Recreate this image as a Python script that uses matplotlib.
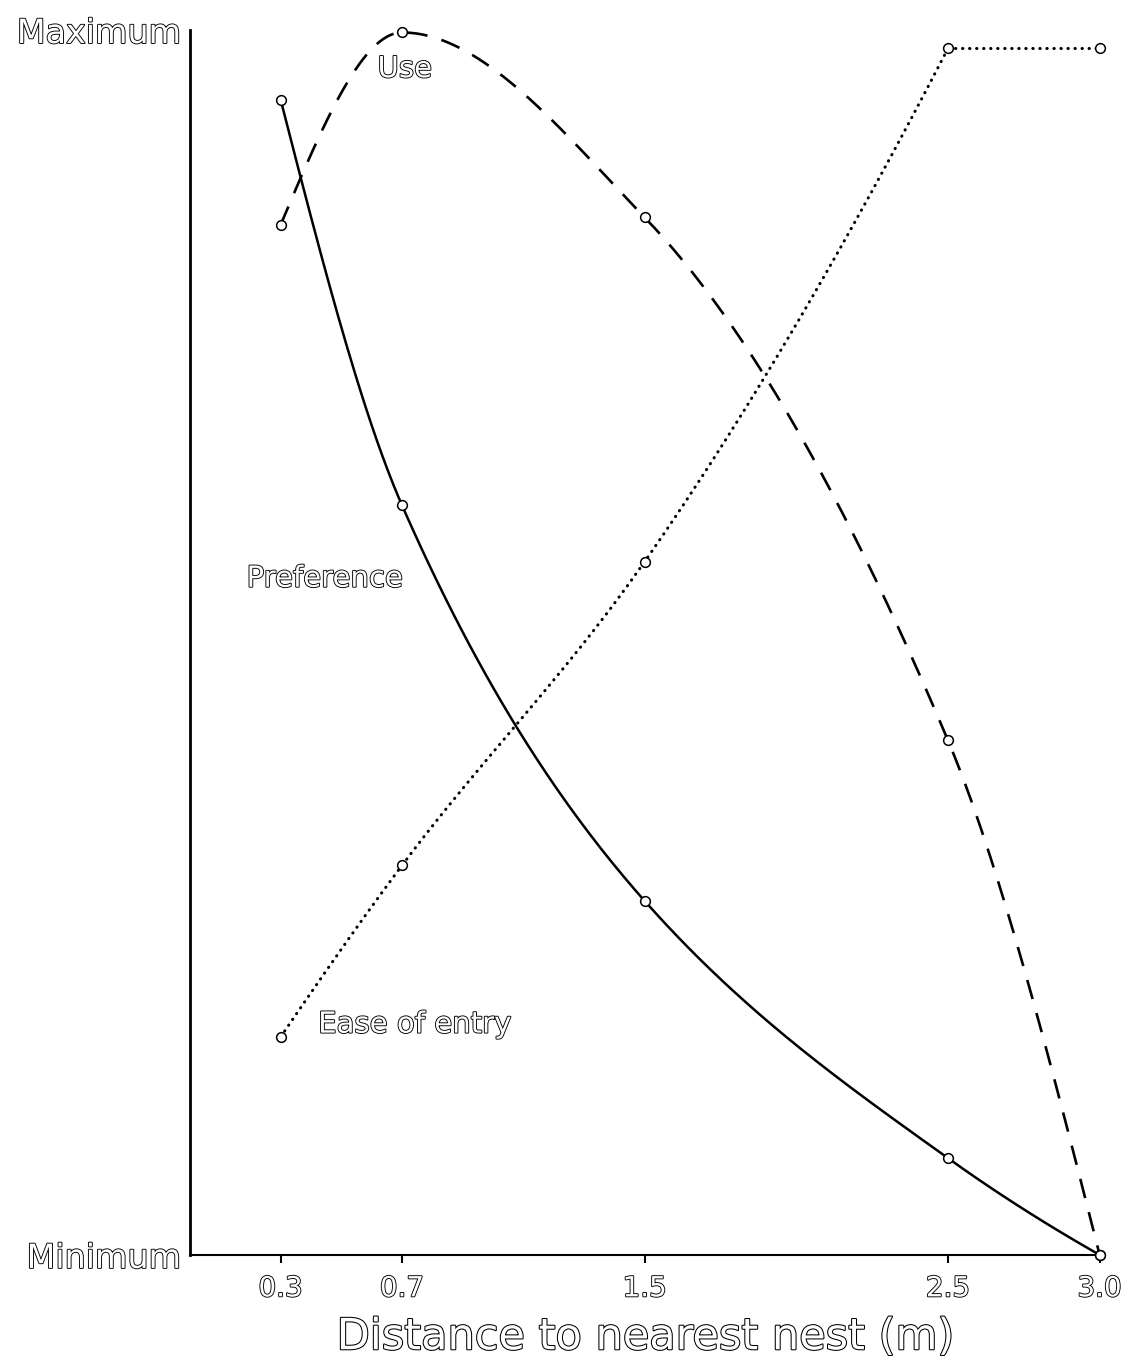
import numpy as np
import matplotlib
matplotlib.use("Agg")
from matplotlib import pyplot as plt
import matplotlib.patheffects as pe

# distances (m) and relative levels (0 = minimum, 1 = maximum)
distance = [0.3, 0.7, 1.5, 2.5, 3.0]
preference = [0.943, 0.612, 0.289, 0.079, 0.0]
use = [0.841, 0.998, 0.847, 0.420, 0.0]
ease_of_entry = [0.178, 0.318, 0.566, 0.985, 0.985]
tick_labels = ["0.3", "0.7", "1.5", "2.5", "3.0"]


def smooth(x, y, n=300):
    # pchip style curve, only used to draw the smooth line between points
    x = np.asarray(x, float)
    y = np.asarray(y, float)
    h = np.diff(x)
    d = np.diff(y) / h
    m = np.zeros(len(x))
    for i in range(1, len(x) - 1):
        if d[i - 1] * d[i] > 0:
            w1 = 2 * h[i] + h[i - 1]
            w2 = h[i] + 2 * h[i - 1]
            m[i] = (w1 + w2) / (w1 / d[i - 1] + w2 / d[i])
    # end slopes
    m[0] = ((2 * h[0] + h[1]) * d[0] - h[0] * d[1]) / (h[0] + h[1])
    if np.sign(m[0]) != np.sign(d[0]):
        m[0] = 0
    m[-1] = ((2 * h[-1] + h[-2]) * d[-1] - h[-1] * d[-2]) / (h[-1] + h[-2])
    if np.sign(m[-1]) != np.sign(d[-1]):
        m[-1] = 0
    xs = np.linspace(x[0], x[-1], n)
    idx = np.clip(np.searchsorted(x, xs) - 1, 0, len(x) - 2)
    hh = h[idx]
    t = (xs - x[idx]) / hh
    h00 = 2 * t**3 - 3 * t**2 + 1
    h10 = t**3 - 2 * t**2 + t
    h01 = -2 * t**3 + 3 * t**2
    h11 = t**3 - t**2
    ys = h00 * y[idx] + h10 * hh * m[idx] + h01 * y[idx + 1] + h11 * hh * m[idx + 1]
    return xs, ys


outline = [pe.withStroke(linewidth=1.3, foreground="black")]
font = "DejaVu Sans"

fig = plt.figure(figsize=(11.29, 13.58), dpi=100)
ax = fig.add_axes([0.168, 0.0759, 0.806, 0.902])

xs, ys = smooth(distance, preference)
ax.plot(xs, ys, color="black", lw=1.8, solid_capstyle="round", clip_on=False)

xs, ys = smooth(distance, use)
ax.plot(xs, ys, color="black", lw=1.9, linestyle=(0, (7.5, 5.5)), clip_on=False)

xs, ys = smooth(distance[:4], ease_of_entry[:4])
ax.plot(xs, ys, color="black", lw=2.2, linestyle=(0, (0.1, 2.2)),
        dash_capstyle="round", clip_on=False)
ax.plot(distance[3:], ease_of_entry[3:], color="black", lw=2.2,
        linestyle=(0, (0.1, 2.2)), dash_capstyle="round", clip_on=False)

for series in (preference, use, ease_of_entry):
    ax.plot(distance, series, "o", ms=7, mfc="white", mec="black", mew=1.1,
            clip_on=False, zorder=5)

ax.set_xlim(0, 3.0)
ax.set_ylim(0, 1)
ax.spines["top"].set_visible(False)
ax.spines["right"].set_visible(False)
ax.spines["left"].set_linewidth(2)
ax.spines["bottom"].set_linewidth(1.5)

ax.set_xticks(distance)
ax.set_xticklabels(tick_labels)
ax.tick_params(axis="x", direction="out", length=6, width=1.5, pad=8)
for lab in ax.get_xticklabels():
    lab.set_fontsize(20)
    lab.set_family(font)
    lab.set_color("white")
    lab.set_path_effects(outline)

ax.set_yticks([0, 1])
ax.set_yticklabels(["Minimum", "Maximum"])
ax.tick_params(axis="y", length=0, pad=6)
for lab in ax.get_yticklabels():
    lab.set_fontsize(24)
    lab.set_family(font)
    lab.set_color("white")
    lab.set_path_effects(outline)

ax.set_xlabel("Distance to nearest nest (m)", fontsize=31, family=font,
              color="white", labelpad=10,
              path_effects=[pe.withStroke(linewidth=1.5, foreground="black")])

ax.text(0.709, 0.968, "Use", fontsize=21, family=font, color="white",
        path_effects=outline, ha="center", va="center")
ax.text(0.445, 0.552, "Preference", fontsize=21, family=font, color="white",
        path_effects=outline, ha="center", va="center")
ax.text(0.742, 0.188, "Ease of entry", fontsize=21, family=font, color="white",
        path_effects=outline, ha="center", va="center")

fig.savefig("out.png", dpi=100)
